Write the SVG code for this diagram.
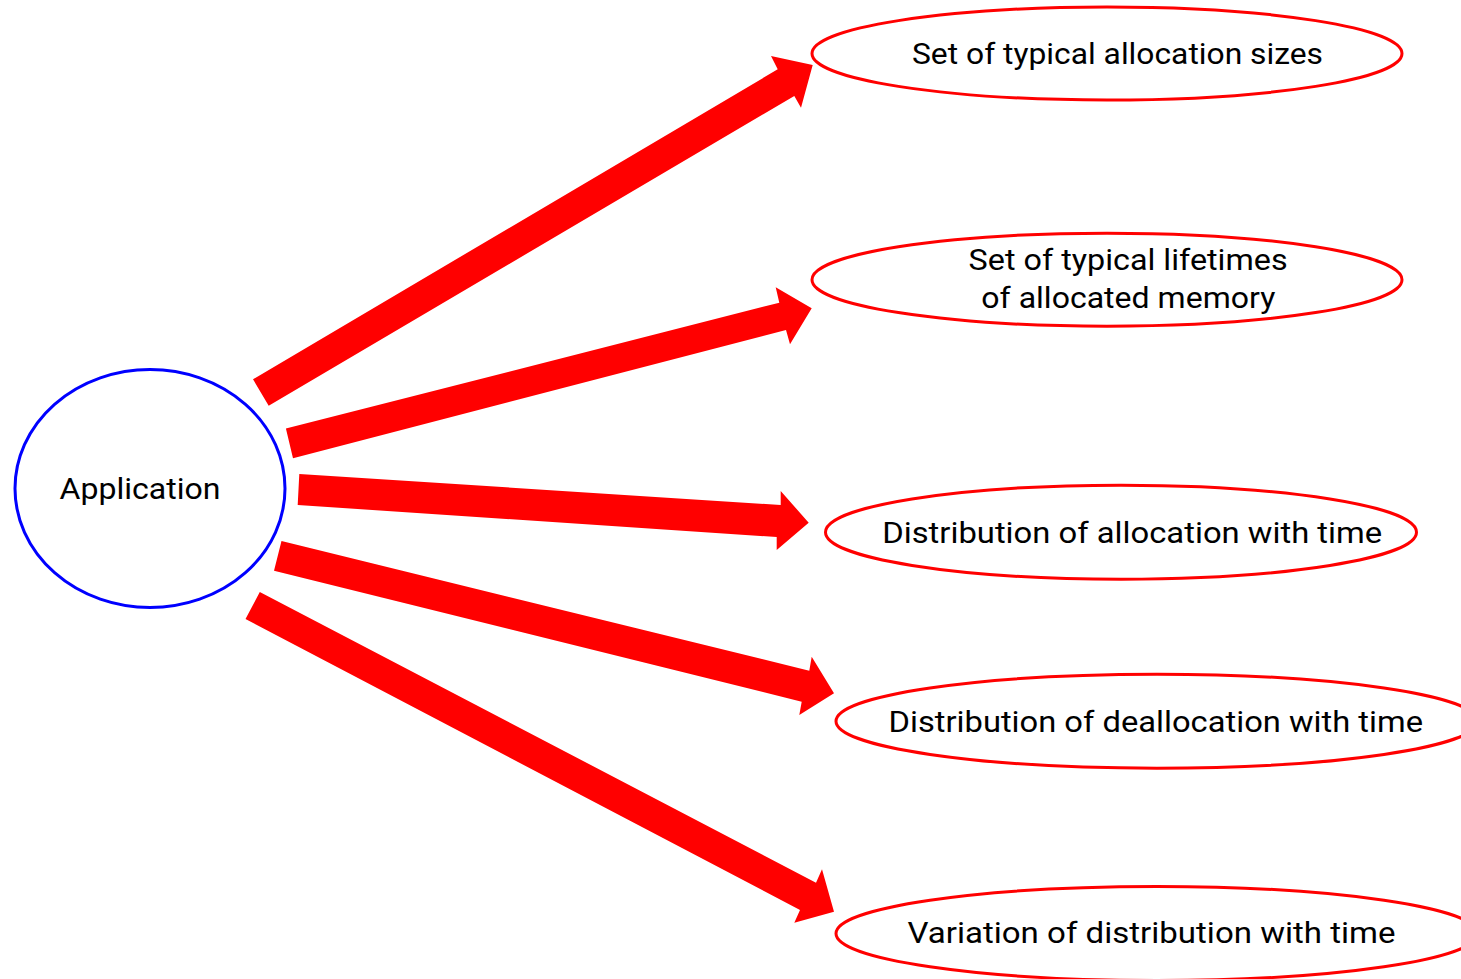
<svg xmlns="http://www.w3.org/2000/svg" width="1461" height="979" viewBox="0 0 1461 979">
  <style>
    .bg { fill: #ffffff; }
    .app { fill: #ffffff; stroke: #0000ff; stroke-width: 3; }
    .item { fill: #ffffff; stroke: #ff0000; stroke-width: 3; }
    .arrow { fill: #ff0000; stroke: none; }
    .label { font-family: Roboto, "Liberation Sans", sans-serif; font-size: 30px; fill: #000000; }
  </style>
  <rect class="bg" x="0" y="0" width="1461" height="979"/>

  <!-- block arrows from the application to each property -->
  <g id="connectors">
    <polygon class="arrow" points="253,379.3 777.7,69.3 771,56 812.7,65 801,107.7 794.3,96 268.7,405.7"/>
    <polygon class="arrow" points="285.9,428.6 779.3,302.7 775.7,287.3 811.7,308.3 790,344.3 786,330 293,458.3"/>
    <polygon class="arrow" points="299.3,474 780.7,505 780.7,491 808.7,522.7 776.7,550 776.7,537 297.7,505"/>
    <polygon class="arrow" points="281.5,541 809.3,670.7 811.7,656.7 834,693.3 799.3,715 801.7,701.7 274,570.7"/>
    <polygon class="arrow" points="259.8,592 816,882.7 822,869.3 834,911.7 794.3,922.7 800,910 245.5,619"/>
  </g>

  <g id="application">
    <ellipse class="app" cx="150" cy="488.5" rx="135" ry="119"/>
    <text class="label" x="59.5" y="498.5" textLength="161" lengthAdjust="spacingAndGlyphs">Application</text>
  </g>

  <g id="allocation-sizes">
    <ellipse class="item" cx="1107" cy="53.5" rx="295" ry="46.5"/>
    <text class="label" x="912" y="64" textLength="411" lengthAdjust="spacingAndGlyphs">Set of typical allocation sizes</text>
  </g>

  <g id="lifetimes">
    <ellipse class="item" cx="1107" cy="279.7" rx="295" ry="46.5"/>
    <text class="label" x="968.6" y="269.5" textLength="319" lengthAdjust="spacingAndGlyphs">Set of typical lifetimes</text>
    <text class="label" x="981.3" y="307.5" textLength="294" lengthAdjust="spacingAndGlyphs">of allocated memory</text>
  </g>

  <g id="allocation-distribution">
    <ellipse class="item" cx="1121" cy="532.2" rx="295.5" ry="47"/>
    <text class="label" x="882.2" y="542.7" textLength="500" lengthAdjust="spacingAndGlyphs">Distribution of allocation with time</text>
  </g>

  <g id="deallocation-distribution">
    <ellipse class="item" cx="1157" cy="721.2" rx="321" ry="47"/>
    <text class="label" x="888.5" y="731.7" textLength="534.5" lengthAdjust="spacingAndGlyphs">Distribution of deallocation with time</text>
  </g>

  <g id="distribution-variation">
    <ellipse class="item" cx="1157" cy="933.5" rx="321" ry="47"/>
    <text class="label" x="907.5" y="943.3" textLength="488" lengthAdjust="spacingAndGlyphs">Variation of distribution with time</text>
  </g>
</svg>
